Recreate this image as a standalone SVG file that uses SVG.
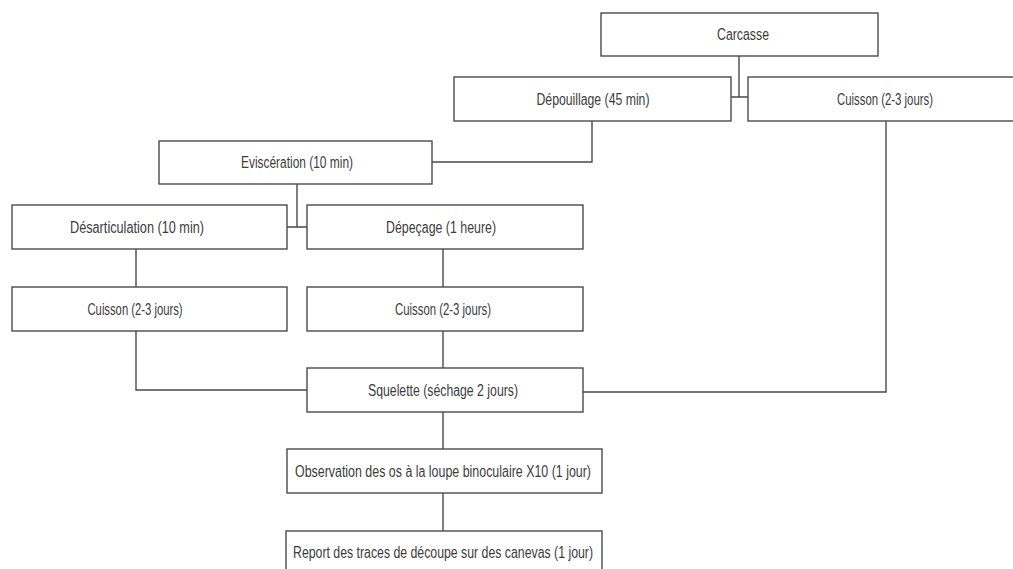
<svg xmlns="http://www.w3.org/2000/svg" width="1013" height="569" viewBox="0 0 1013 569">
<style>
.box{fill:#fff;stroke:#4a4a4a;stroke-width:1.4}
.lbl{font-family:"Liberation Sans",Arial,sans-serif;font-size:16px;fill:#3c3c3c;text-anchor:middle}
.con{fill:none;stroke:#4a4a4a;stroke-width:1.4}
</style>
<rect width="1013" height="569" fill="#fff"/>
<g id="connectors">
<path class="con" d="M739,56 V97 M731,97 H748"/>
<path class="con" d="M592,121 V162 H432"/>
<path class="con" d="M297,184 V227 M287,227 H307"/>
<path class="con" d="M136,249 V287"/>
<path class="con" d="M443,249 V287"/>
<path class="con" d="M136,331 V390 H307"/>
<path class="con" d="M443,331 V368"/>
<path class="con" d="M886,121 V392 H583"/>
<path class="con" d="M443,412 V449"/>
<path class="con" d="M443,493 V531"/>
</g>
<g id="carcasse"><rect class="box" x="601" y="13" width="277" height="43"/><text class="lbl" x="743" y="40" textLength="52" lengthAdjust="spacingAndGlyphs">Carcasse</text></g>
<g id="depouillage"><rect class="box" x="454" y="77" width="277" height="44"/><text class="lbl" x="593" y="105" textLength="113" lengthAdjust="spacingAndGlyphs">Dépouillage (45 min)</text></g>
<g id="cuisson1"><rect class="box" x="748" y="77" width="275" height="44"/><text class="lbl" x="885" y="105" textLength="96" lengthAdjust="spacingAndGlyphs">Cuisson (2-3 jours)</text></g>
<g id="evisceration"><rect class="box" x="159" y="141" width="273" height="43"/><text class="lbl" x="297" y="168" textLength="112" lengthAdjust="spacingAndGlyphs">Eviscération (10 min)</text></g>
<g id="desarticulation"><rect class="box" x="12" y="205" width="275" height="44"/><text class="lbl" x="137" y="233" textLength="134" lengthAdjust="spacingAndGlyphs">Désarticulation (10 min)</text></g>
<g id="depecage"><rect class="box" x="307" y="205" width="276" height="44"/><text class="lbl" x="441" y="233" textLength="110" lengthAdjust="spacingAndGlyphs">Dépeçage (1 heure)</text></g>
<g id="cuisson2"><rect class="box" x="12" y="287" width="275" height="44"/><text class="lbl" x="135" y="315" textLength="95" lengthAdjust="spacingAndGlyphs">Cuisson (2-3 jours)</text></g>
<g id="cuisson3"><rect class="box" x="307" y="287" width="276" height="44"/><text class="lbl" x="443" y="315" textLength="96" lengthAdjust="spacingAndGlyphs">Cuisson (2-3 jours)</text></g>
<g id="squelette"><rect class="box" x="307" y="368" width="276" height="44"/><text class="lbl" x="443" y="396" textLength="150" lengthAdjust="spacingAndGlyphs">Squelette (séchage 2 jours)</text></g>
<g id="observation"><rect class="box" x="287" y="449" width="315" height="44"/><text class="lbl" x="443" y="477" textLength="296" lengthAdjust="spacingAndGlyphs">Observation des os à la loupe binoculaire X10 (1 jour)</text></g>
<g id="report"><rect class="box" x="286" y="531" width="316" height="46"/><text class="lbl" x="443" y="558" textLength="300" lengthAdjust="spacingAndGlyphs">Report des traces de découpe sur des canevas (1 jour)</text></g>
</svg>
